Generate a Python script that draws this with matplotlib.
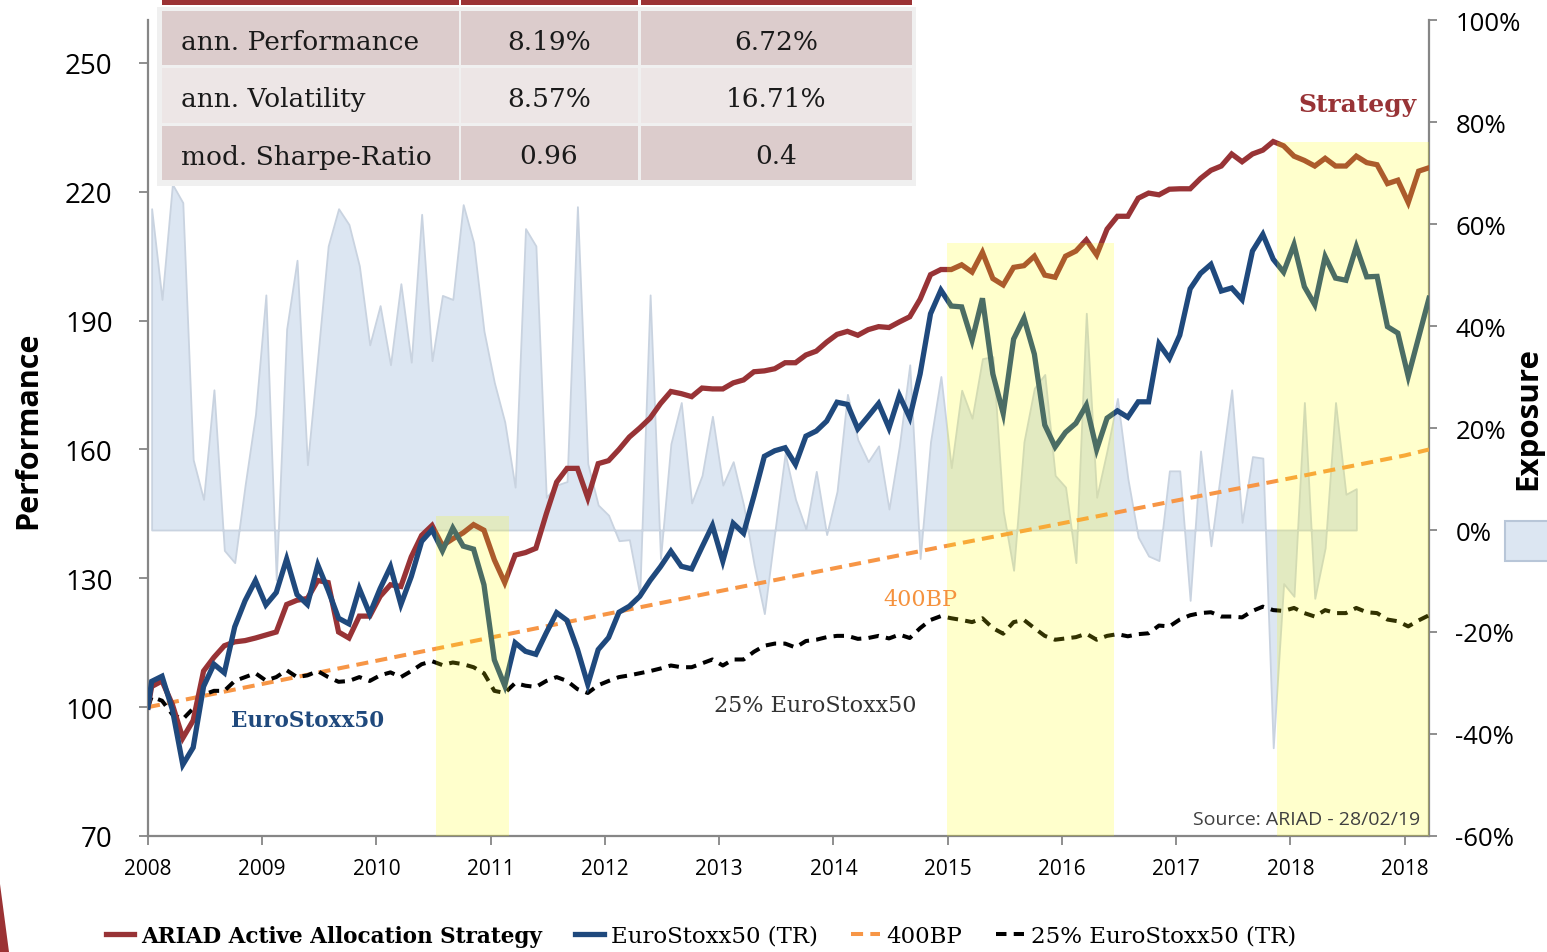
import numpy as np
import matplotlib.pyplot as plt
from matplotlib.patches import Rectangle, Polygon

# monthly index levels, first value is the base 100
strategy = [100, 104.8, 106.1, 100.6, 92.8, 96.9, 108.4, 111.6, 114.3, 115.2, 115.5,
            116.1, 116.8, 117.5, 123.9, 124.9, 125.3, 129.5, 129.0, 117.5, 116.1,
            121.2, 121.2, 125.8, 128.5, 128.1, 135.0, 140.0, 142.3, 137.6, 139.2,
            140.6, 142.5, 141.2, 134.3, 129.0, 135.4, 136.0, 137.0, 145.0, 152.4,
            155.6, 155.6, 148.7, 156.7, 157.4, 160.0, 162.9, 165.0, 167.3, 170.7,
            173.5, 173.0, 172.3, 174.3, 174.1, 174.1, 175.5, 176.2, 178.1, 178.3,
            178.8, 180.2, 180.2, 182.0, 182.9, 185.0, 186.8, 187.5, 186.6, 187.9,
            188.6, 188.4, 189.7, 190.9, 195.0, 200.7, 201.9, 201.9, 203.0, 201.3,
            205.9, 199.8, 198.3, 202.4, 202.8, 205.0, 200.6, 200.1, 205.0, 206.2,
            208.8, 205.3, 211.3, 214.3, 214.3, 218.5, 219.7, 219.3, 220.6, 220.7,
            220.7, 223.1, 225.0, 226.0, 228.8, 227.0, 228.8, 229.7, 231.7, 230.7,
            228.3, 227.3, 226.0, 227.8, 226.0, 226.0, 228.3, 226.8, 226.3, 221.9,
            222.7, 217.5, 224.8, 225.6]

eurostoxx = [100, 106.0, 107.2, 99.4, 86.6, 90.6, 104.8, 110.0, 108.0, 118.7, 124.8,
             129.5, 123.8, 126.7, 134.5, 126.2, 123.9, 133.1, 127.2, 120.7, 119.4,
             127.6, 121.7, 127.6, 132.7, 123.9, 130.4, 138.6, 141.3, 136.4, 141.7,
             137.5, 136.8, 128.5, 111.0, 105.0, 115.0, 113.0, 112.3, 117.3, 122.0,
             120.2, 113.5, 105.3, 113.4, 116.2, 122.1, 123.5, 125.8, 129.5, 132.7,
             136.3, 132.8, 132.2, 137.3, 142.3, 134.0, 142.8, 140.5, 149.2, 158.4,
             159.7, 160.4, 156.5, 163.1, 164.3, 166.6, 171.0, 170.5, 164.8, 167.7,
             170.7, 165.0, 172.6, 167.4, 177.6, 191.6, 197.1, 193.4, 193.2, 185.4,
             195.2, 177.6, 168.4, 185.7, 190.6, 182.2, 165.7, 160.6, 164.0, 166.1,
             170.3, 160.0, 167.3, 169.0, 167.5, 171.1, 171.1, 184.6, 181.2, 186.6,
             197.4, 201.0, 203.1, 196.9, 197.6, 194.9, 206.2, 210.1, 204.3, 201.3,
             207.7, 197.9, 193.7, 204.9, 199.9, 199.4, 207.2, 200.2, 200.3, 188.6,
             187.1, 177.0, 186.1, 195.2]

stoxx25 = [100, 102.4, 101.5, 98.3, 97.2, 99.7, 102.9, 103.8, 103.8, 106.1, 107.0,
           107.9, 106.2, 107.0, 108.6, 107.0, 107.4, 108.4, 107.0, 105.9, 106.1,
           107.0, 106.1, 107.4, 108.1, 107.0, 108.4, 110.0, 110.7, 109.8, 110.4,
           110.0, 109.3, 107.9, 103.8, 103.3, 105.6, 105.0, 104.7, 106.1, 107.0,
           106.1, 104.2, 103.3, 105.1, 106.1, 107.0, 107.4, 107.9, 108.4, 109.0,
           109.7, 109.3, 109.3, 110.2, 111.1, 109.7, 111.1, 111.1, 112.9, 114.3,
           114.8, 114.8, 113.9, 115.4, 115.7, 116.3, 116.6, 116.6, 115.9, 116.1,
           116.6, 116.0, 116.9, 116.1, 118.4, 120.3, 121.2, 120.7, 120.3, 119.8,
           120.7, 118.4, 117.1, 119.8, 120.3, 118.4, 116.6, 115.7, 116.0, 116.3,
           117.1, 115.7, 116.6, 117.0, 116.5, 117.0, 117.2, 119.0, 118.8, 120.4,
           121.4, 121.9, 122.1, 121.1, 121.1, 120.9, 122.4, 123.4, 122.6, 122.4,
           123.1, 121.9, 121.1, 122.6, 121.9, 121.9, 123.1, 122.1, 121.9, 120.4,
           120.0, 118.8, 120.2, 121.4]

# exposure of the strategy in %
exposure = [63.0, 45.2, 67.8, 64.2, 13.8, 6.0, 27.5, -4.0, -6.4, 8.8, 22.7, 46.1,
            -9.8, 39.4, 52.9, 12.8, 34.0, 55.7, 63.0, 59.9, 51.8, 36.3, 44.0, 32.4,
            48.3, 32.9, 61.9, 33.2, 46.0, 45.2, 63.8, 56.4, 39.0, 28.9, 21.2, 8.4,
            59.1, 55.7, 6.4, 8.8, 9.5, 63.4, 13.0, 4.9, 2.9, -2.1, -1.9, -12.6,
            46.1, -5.6, 16.9, 25.0, 5.3, 10.7, 22.3, 8.8, 13.4, 4.9, -6.7, -16.4,
            -0.5, 15.0, 6.0, 0.2, 11.5, -0.9, 7.6, 26.6, 17.7, 13.4, 16.5, 4.1,
            16.5, 32.4, -5.6, 17.3, 30.1, 12.2, 27.4, 21.9, 33.6, 34.0, 3.7, -7.9,
            17.3, 27.8, 30.5, 10.7, 8.4, -6.4, 42.5, 6.4, 15.6, 25.8, 10.1, -1.4,
            -5.1, -6.0, 11.6, 11.6, -13.8, 15.5, -3.1, 12.2, 27.5, 1.5, 14.4, 14.1,
            -42.7, -10.5, -13.0, 25.0, -13.4, -3.5, 25.0, 7.0, 8.1]

bp400_pos = [0, 11, 22, 33, 44, 55, 66, 77, 88, 99, 110, 121, 123.35]
bp400 = [100, 105.4, 110.8, 116.2, 121.6, 127.0, 132.3, 137.6, 142.8, 148.1, 153.3,
         158.6, 160.0]

year_labels = ['2008', '2009', '2010', '2011', '2012', '2013', '2014', '2015',
               '2016', '2017', '2018', '2018']

band_start = [27.7, 76.9, 108.7]
band_end = [34.8, 93.0, 123.35]
band_top = [144.5, 208.0, 231.6]

table_rows = ['ann. Performance', 'ann. Volatility', 'mod. Sharpe-Ratio']
table_strategy = ['8.19%', '8.57%', '0.96']
table_index = ['6.72%', '16.71%', '0.4']

plt.rcParams['font.family'] = ['Open Sans', 'DejaVu Sans']
SERIF = ['DejaVu Serif']
AXC = '#868686'

W, H = 1547, 953
fig = plt.figure(figsize=(W / 100, H / 100), dpi=100)
ax = fig.add_axes([148 / W, 1 - 837 / H, (1429 - 148) / W, (837 - 21) / H])
ax2 = ax.twinx()
ax.set_zorder(ax2.get_zorder() + 1)
ax.patch.set_visible(False)

x = np.r_[0, np.arange(len(strategy) - 1) + 0.35]
x_exp = np.arange(len(exposure)) + 0.35

# exposure area on the right axis
ax2.fill_between(x_exp, exposure, 0, facecolor='#dce6f2', edgecolor='#c9d3e0',
                 linewidth=1.3, zorder=1)

ax.plot(bp400_pos, bp400, color='#f79646', lw=2.9, dashes=(3, 1.8), zorder=3,
        label='400BP')
ax.plot(x, stoxx25, color='black', lw=2.9, dashes=(2.6, 1.8), zorder=4,
        label='25% EuroStoxx50 (TR)')
ax.plot(x, strategy, color='#983336', lw=3.8, zorder=5,
        label='ARIAD Active Allocation Strategy', solid_joinstyle='miter')
ax.plot(x, eurostoxx, color='#1f497d', lw=3.8, zorder=6,
        label='EuroStoxx50 (TR)', solid_joinstyle='miter')

for s, e, t in zip(band_start, band_end, band_top):
    ax.fill_between([s, e], 70, t, color='#ffff00', alpha=0.2, lw=0, zorder=10)

ax.set_xlim(0, 123.35)
ax.set_ylim(70, 260)
ax2.set_ylim(-60, 100)
ax.set_yticks(range(70, 251, 30))
ax.set_xticks(range(0, 122, 11))
ax.set_xticklabels(year_labels)
ax2.set_yticks(range(-60, 101, 20))
ax2.set_yticklabels([f'{t}%' for t in range(-60, 101, 20)])

for a in (ax, ax2):
    for sp in a.spines.values():
        sp.set_color(AXC)
        sp.set_linewidth(1.6)
    a.spines['top'].set_visible(False)
ax.spines['right'].set_visible(False)
ax2.spines['left'].set_visible(False)
ax2.spines['bottom'].set_visible(False)

ax.tick_params(axis='y', direction='out', length=6.5, width=1.3, color=AXC,
               labelsize=20, pad=19)
ax.tick_params(axis='x', direction='out', length=6.5, width=1.3, color=AXC,
               labelsize=15, pad=9)
ax2.tick_params(axis='y', direction='out', length=6, width=1.3, color=AXC,
                labelsize=18.5, pad=13)

fig.text(28 / W, 1 - 430 / H, 'Performance', rotation=90, fontsize=22,
         fontweight='bold', ha='center', va='center')
fig.text(1528 / W, 1 - 419 / H, 'Exposure', rotation=90, fontsize=22.5,
         fontweight='bold', ha='center', va='center')

# overlay in pixel coordinates for table and decorations
ov = fig.add_axes([0, 0, 1, 1])
ov.set_xlim(0, W)
ov.set_ylim(H, 0)
ov.axis('off')
ov.patch.set_visible(False)
ov.set_zorder(30)

col_x = [162, 461, 641]
col_w = [297, 177, 271]
row_y = [12, 69, 127]
row_h = [54, 55, 54]
row_c = ['#dccccc', '#ede6e6', '#dccccc']
ov.add_patch(Rectangle((157, 8), 759, 179, fc='#f0f0f0', ec='none'))
for cx, cw in zip(col_x, col_w):
    ov.add_patch(Rectangle((cx, -2), cw, 8, fc='#9b3234', ec='none'))
for i in range(3):
    for cx, cw in zip(col_x, col_w):
        ov.add_patch(Rectangle((cx, row_y[i]), cw, row_h[i], fc=row_c[i], ec='none'))
    cy = row_y[i] + row_h[i] / 2 + 3
    ov.text(181, cy, table_rows[i], family=SERIF, fontsize=19, color='#1a1a1a',
            ha='left', va='center')
    ov.text(549, cy, table_strategy[i], family=SERIF, fontsize=19, color='#1a1a1a',
            ha='center', va='center')
    ov.text(776, cy, table_index[i], family=SERIF, fontsize=19, color='#1a1a1a',
            ha='center', va='center')

ov.text(1417, 105, 'Strategy', family=SERIF, fontsize=18, fontweight='bold',
        color='#983336', ha='right', va='center')
ov.text(231, 721, 'EuroStoxx50', family=SERIF, fontsize=15.5, fontweight='bold',
        color='#1f497d', ha='left', va='center')
ov.text(883, 600, '400BP', family=SERIF, fontsize=16, color='#f5923e',
        ha='left', va='center')
ov.text(714, 706, '25% EuroStoxx50', family=SERIF, fontsize=16, color='#333333',
        ha='left', va='center')
ov.text(1420, 820, 'Source: ARIAD - 28/02/19', fontsize=14, color='#404040',
        ha='right', va='center')

ov.add_patch(Rectangle((1505, 522), 50, 40, fc='#dce6f2', ec='#b8c6d8', lw=1.5))
ov.add_patch(Polygon([(0, 885), (9, 953), (0, 953)], closed=True, fc='#9b3234',
                     ec='none'))

handles, labels = ax.get_legend_handles_labels()
order = [2, 3, 0, 1]
leg = fig.legend([handles[i] for i in order], [labels[i] for i in order],
                 loc='center', bbox_to_anchor=(701 / W, 1 - 937 / H), ncol=4,
                 frameon=False, prop={'family': SERIF, 'size': 16.5},
                 handlelength=1.25, handletextpad=0.3, columnspacing=1.45)
leg.get_texts()[0].set_fontweight('bold')
leg.get_texts()[0].set_fontsize(15.5)

fig.savefig('out.png', dpi=100)
